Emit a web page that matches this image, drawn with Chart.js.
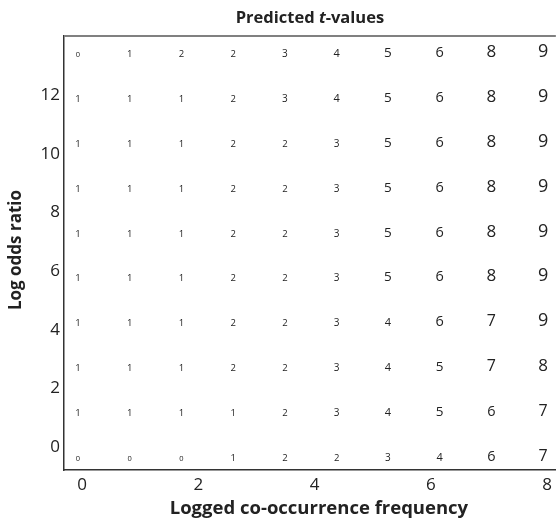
<!DOCTYPE html>
<html>
<head>
<meta charset="utf-8">
<script src="https://cdn.jsdelivr.net/npm/chart.js@4.4.1/dist/chart.umd.min.js"></script>
<style>
  html, body { margin: 0; padding: 0; background: #fff; }
</style>
</head>
<body>
<canvas id="tChart" width="557" height="522"></canvas>
<script>
// grid positions: logged co-occurrence frequency (x) and log odds ratio (y)
const freqValues = [-0.07, 0.82, 1.71, 2.60, 3.49, 4.38, 5.26, 6.15, 7.04, 7.93];
const oddsValues = [13.31, 11.78, 10.25, 8.71, 7.18, 5.65, 4.12, 2.58, 1.05, -0.48];

// predicted t-values, one row per log odds ratio, top to bottom
const tRow1  = [0, 1, 2, 2, 3, 4, 5, 6, 8, 9];
const tRow2  = [1, 1, 1, 2, 3, 4, 5, 6, 8, 9];
const tRow3  = [1, 1, 1, 2, 2, 3, 5, 6, 8, 9];
const tRow4  = [1, 1, 1, 2, 2, 3, 5, 6, 8, 9];
const tRow5  = [1, 1, 1, 2, 2, 3, 5, 6, 8, 9];
const tRow6  = [1, 1, 1, 2, 2, 3, 5, 6, 8, 9];
const tRow7  = [1, 1, 1, 2, 2, 3, 4, 6, 7, 9];
const tRow8  = [1, 1, 1, 2, 2, 3, 4, 5, 7, 8];
const tRow9  = [1, 1, 1, 1, 2, 3, 4, 5, 6, 7];
const tRow10 = [0, 0, 0, 1, 2, 2, 3, 4, 6, 7];
const tRows = [tRow1, tRow2, tRow3, tRow4, tRow5, tRow6, tRow7, tRow8, tRow9, tRow10];

const xTicks = [0, 2, 4, 6, 8];
const yTicks = [0, 2, 4, 6, 8, 10, 12];

const FONT = '"Open Sans", "DejaVu Sans", sans-serif';
const INK = '#222';

// digit size grows with the t-value
const digitSizes = [7.5, 9.5, 9.5, 10, 11, 13.5, 14.5, 16, 17, 18];

const datasets = tRows.map((row, r) => ({
    label: 'row ' + (r + 1),
    data: row.map((t, i) => ({ x: freqValues[i], y: oddsValues[r], t: t })),
    pointRadius: 0,
    showLine: false
}));

// draws each t-value as text at its point
const tLabels = {
    id: 'tLabels',
    afterDatasetsDraw(chart) {
        const ctx = chart.ctx;
        ctx.save();
        ctx.fillStyle = INK;
        ctx.textAlign = 'center';
        ctx.textBaseline = 'alphabetic';
        chart.data.datasets.forEach((ds, di) => {
            chart.getDatasetMeta(di).data.forEach((pt, i) => {
                const t = ds.data[i].t;
                ctx.font = digitSizes[t] + 'px ' + FONT;
                ctx.fillText(String(t), pt.x, pt.y);
            });
        });
        ctx.restore();
    }
};

// top frame line, title with an italic "t", and both axis titles
const frameAndTitles = {
    id: 'frameAndTitles',
    afterDraw(chart) {
        const ctx = chart.ctx;
        const area = chart.chartArea;
        ctx.save();
        ctx.strokeStyle = '#808080';
        ctx.lineWidth = 2;
        ctx.beginPath();
        ctx.moveTo(area.left, area.top);
        ctx.lineTo(area.right, area.top);
        ctx.stroke();

        const parts = [
            { text: 'Predicted ', font: 'bold 16.5px ' + FONT },
            { text: 't', font: 'italic bold 16.5px ' + FONT },
            { text: '-values', font: 'bold 16.5px ' + FONT }
        ];
        let total = 0;
        parts.forEach(p => { ctx.font = p.font; p.w = ctx.measureText(p.text).width; total += p.w; });
        let x = (area.left + area.right) / 2 - total / 2;
        ctx.fillStyle = INK;
        ctx.textAlign = 'left';
        ctx.textBaseline = 'alphabetic';
        parts.forEach(p => {
            ctx.font = p.font;
            ctx.fillText(p.text, x, 23);
            x += p.w;
        });

        ctx.textAlign = 'center';
        ctx.font = 'bold 18.5px ' + FONT;
        ctx.fillText('Logged co-occurrence frequency', (area.left + area.right) / 2 + 9, 514);

        ctx.translate(16, (area.top + area.bottom) / 2 - 3);
        ctx.rotate(-Math.PI / 2);
        ctx.textBaseline = 'middle';
        ctx.font = 'bold 17px ' + FONT;
        ctx.fillText('Log odds ratio', 0, 0);
        ctx.restore();
    }
};

new Chart(document.getElementById('tChart'), {
    type: 'scatter',
    data: { datasets },
    options: {
        responsive: false,
        animation: false,
        events: [],
        layout: { padding: { top: 36, right: 0, bottom: 0, left: 0 } },
        plugins: {
            legend: { display: false },
            tooltip: { enabled: false }
        },
        scales: {
            x: {
                type: 'linear',
                min: -0.31,
                max: 8.15,
                afterBuildTicks: scale => { scale.ticks = xTicks.map(v => ({ value: v })); },
                afterFit: scale => { scale.height = 52; },
                grid: { display: false, drawTicks: false },
                border: { display: true, color: '#333', width: 1.5 },
                ticks: {
                    color: INK,
                    padding: 5,
                    maxRotation: 0,
                    autoSkip: false,
                    font: { family: FONT, size: 17 }
                }
            },
            y: {
                type: 'linear',
                min: -0.79,
                max: 14.03,
                afterBuildTicks: scale => { scale.ticks = yTicks.map(v => ({ value: v })); },
                afterFit: scale => { scale.width = 64; },
                grid: { display: false, drawTicks: false },
                border: { display: true, color: '#333', width: 1.5 },
                ticks: {
                    color: INK,
                    padding: 4,
                    autoSkip: false,
                    font: { family: FONT, size: 17 }
                }
            }
        }
    },
    plugins: [tLabels, frameAndTitles]
});
</script>
</body>
</html>
